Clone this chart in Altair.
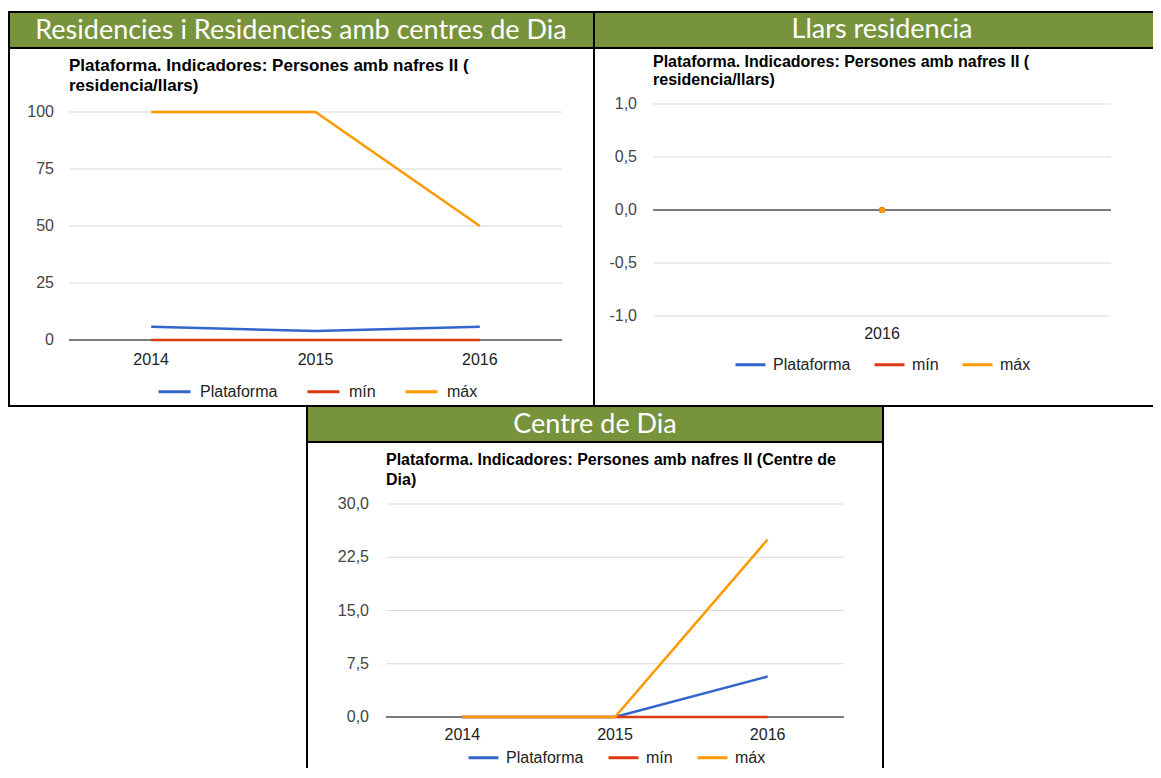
import altair as alt
import pandas as pd

# ---------------- data ----------------
series = ["Plataforma", "mín", "máx"]
series_colors = ["#3366CC", "#DC3912", "#FF9900"]

headers = ["Residencies i Residencies amb centres de Dia", "Llars residencia", "Centre de Dia"]
chart_titles = [
    "Plataforma. Indicadores: Persones amb nafres II (\nresidencia/llars)",
    "Plataforma. Indicadores: Persones amb nafres II (\nresidencia/llars)",
    "Plataforma. Indicadores: Persones amb nafres II (Centre de\nDia)",
]

p1_years = ["2014", "2015", "2016"]
p1_plataforma = [5.8, 3.9, 5.8]
p1_min = [0, 0, 0]
p1_max = [100, 100, 50]
p1_ticks = [0, 25, 50, 75, 100]
p1_tick_labels = ["0", "25", "50", "75", "100"]
p1_domain = [0, 100]

p2_years = ["2016"]
p2_plataforma = [0]
p2_min = [0]
p2_max = [0]
p2_ticks = [-1.0, -0.5, 0.0, 0.5, 1.0]
p2_tick_labels = ["-1,0", "-0,5", "0,0", "0,5", "1,0"]
p2_domain = [-1, 1]

p3_years = ["2014", "2015", "2016"]
p3_plataforma = [0, 0, 5.7]
p3_min = [0, 0, 0]
p3_max = [0, 0, 25]
p3_ticks = [0, 7.5, 15, 22.5, 30]
p3_tick_labels = ["0,0", "7,5", "15,0", "22,5", "30,0"]
p3_domain = [0, 30]

# ---------------- style / layout ----------------
FONT = "Liberation Sans"
HEAD_FONT = "Lato"
GREEN = "#77933C"
W, H = 1145, 760
O = 8  # page margin: chart origin sits at page (8, 8)


def r(v):
    return v - O


def long_df(years, plat, mn, mx):
    rows = []
    for s, vals in zip(series, [plat, mn, mx]):
        for yv, v in zip(years, vals):
            rows.append({"year": yv, "serie": s, "value": v})
    return pd.DataFrame(rows)


one = pd.DataFrame({"k": [0]})


def hline(x1, x2, y):
    return alt.Chart(one).mark_rule(color="black", strokeWidth=2, strokeCap="square").encode(
        x=alt.value(r(x1)), x2=alt.value(r(x2)), y=alt.value(r(y)))


def vline(x, y1, y2):
    return alt.Chart(one).mark_rule(color="black", strokeWidth=2, strokeCap="square").encode(
        x=alt.value(r(x)), y=alt.value(r(y1)), y2=alt.value(r(y2)))


def panel(df, years, ticks, tick_labels, ydomain, g, header, title, points=False):
    px0, py_top, px1, py_bot = g["plot"]
    bx1, by1, bx2, by2 = g["border"]
    L = []
    # header bar + text
    L.append(alt.Chart(one).mark_rect(color=GREEN).encode(
        x=alt.value(r(bx1)), x2=alt.value(r(bx2)),
        y=alt.value(r(by1)), y2=alt.value(r(g["head_bottom"]))))
    L.append(alt.Chart(pd.DataFrame({"t": [header]})).mark_text(
        font=HEAD_FONT, fontSize=27, color="white", align="center", baseline="alphabetic").encode(
        x=alt.value(r(g["head_cx"])), y=alt.value(r(g["head_base"])), text="t:N"))
    # borders
    L += [hline(bx1, bx2, by1), hline(bx1, bx2, g["head_bottom"]),
          vline(bx1, by1, by2), vline(bx2, by1, by2)]
    if g.get("closed", True):
        L.append(hline(bx1, bx2, by2))
    # chart title
    L.append(alt.Chart(pd.DataFrame({"t": [title]})).mark_text(
        font=FONT, fontSize=g["title_size"], fontWeight="bold", color="#000",
        align="left", baseline="alphabetic", lineBreak="\n", lineHeight=g["title_lh"]).encode(
        x=alt.value(r(px0)), y=alt.value(r(g["title_base"])), text="t:N"))

    xs = alt.Scale(type="point", domain=years, range=[r(px0), r(px1)], padding=0.5)
    ys = alt.Scale(domain=ydomain, range=[r(py_bot), r(py_top)], nice=False, zero=False)
    tdf = pd.DataFrame({"tick": ticks, "label": tick_labels})

    # gridlines
    L.append(alt.Chart(tdf).mark_rule(color="#dadada", strokeWidth=1).encode(
        y=alt.Y("tick:Q", scale=ys, axis=None),
        x=alt.value(r(px0)), x2=alt.value(r(px1))))
    # y tick labels
    L.append(alt.Chart(tdf).mark_text(
        align="right", baseline="middle", font=FONT, fontSize=16, color="#444").encode(
        y=alt.Y("tick:Q", scale=ys, axis=None), x=alt.value(r(g["ylab_right"])), text="label:N"))
    # baseline at zero
    L.append(alt.Chart(pd.DataFrame({"tick": [0]})).mark_rule(color="#555", strokeWidth=1.5).encode(
        y=alt.Y("tick:Q", scale=ys, axis=None),
        x=alt.value(r(px0)), x2=alt.value(r(px1))))
    # x tick labels
    L.append(alt.Chart(pd.DataFrame({"year": years})).mark_text(
        align="center", baseline="middle", font=FONT, fontSize=16, color="#222").encode(
        x=alt.X("year:O", scale=xs, axis=None), y=alt.value(r(g["xlab_y"])), text="year:N"))

    sym = g["sym"]
    legend = alt.Legend(title=None, orient="none", legendX=r(g["leg_x"]),
                        legendY=r(g["leg_cy"]) - sym / 2,
                        direction="horizontal", symbolType="stroke", symbolSize=sym * sym,
                        symbolStrokeWidth=3, labelFont=FONT, labelFontSize=16,
                        labelColor="#222", labelOffset=g["laboff"], columnPadding=g["colpad"],
                        padding=0)
    for i, s in enumerate(series):
        L.append(alt.Chart(df).transform_filter(alt.datum.serie == s).mark_line(strokeWidth=2.5).encode(
            x=alt.X("year:O", scale=xs, axis=None),
            y=alt.Y("value:Q", scale=ys, axis=None),
            color=alt.Color("serie:N", scale=alt.Scale(domain=series, range=series_colors),
                            legend=legend if i == 0 else None)))
    if points:
        for s in series:
            L.append(alt.Chart(df).transform_filter(alt.datum.serie == s).mark_circle(size=36, opacity=1).encode(
                x=alt.X("year:O", scale=xs, axis=None),
                y=alt.Y("value:Q", scale=ys, axis=None),
                fill=alt.Fill("serie:N", scale=alt.Scale(domain=series, range=series_colors), legend=None)))
    return L


g1 = dict(plot=(69, 112, 562, 340), border=(9, 12, 594, 406), head_bottom=48,
          head_cx=301, head_base=39, title_base=71, title_lh=20, title_size=17,
          ylab_right=54, xlab_y=360, leg_x=157, leg_cy=390, sym=32, laboff=8, colpad=23)
g2 = dict(plot=(653, 104, 1111, 316), border=(594, 12, 1158, 406), head_bottom=48,
          head_cx=882, head_base=38, title_base=67, title_lh=18, title_size=16,
          ylab_right=637, xlab_y=334, leg_x=734, leg_cy=363, sym=30, laboff=6, colpad=17)
g3 = dict(plot=(386, 504, 844, 717), border=(307, 406, 883, 775), head_bottom=442,
          head_cx=595, head_base=433, title_base=465, title_lh=20, title_size=16,
          ylab_right=369, xlab_y=735, leg_x=467, leg_cy=756, sym=30, laboff=6, colpad=18,
          closed=False)

layers = []
layers += panel(long_df(p1_years, p1_plataforma, p1_min, p1_max), p1_years, p1_ticks, p1_tick_labels,
                p1_domain, g1, headers[0], chart_titles[0])
layers += panel(long_df(p2_years, p2_plataforma, p2_min, p2_max), p2_years, p2_ticks, p2_tick_labels,
                p2_domain, g2, headers[1], chart_titles[1], points=True)
layers += panel(long_df(p3_years, p3_plataforma, p3_min, p3_max), p3_years, p3_ticks, p3_tick_labels,
                p3_domain, g3, headers[2], chart_titles[2])

chart = (alt.layer(*layers)
         .resolve_scale(x="independent", y="independent", color="independent", fill="independent")
         .properties(width=W, height=H, autosize=alt.AutoSizeParams(type="none"), padding=0)
         .configure(font=FONT)
         .configure_view(stroke="transparent"))

chart.save("out.html", embed_options={"renderer": "svg", "actions": False})
